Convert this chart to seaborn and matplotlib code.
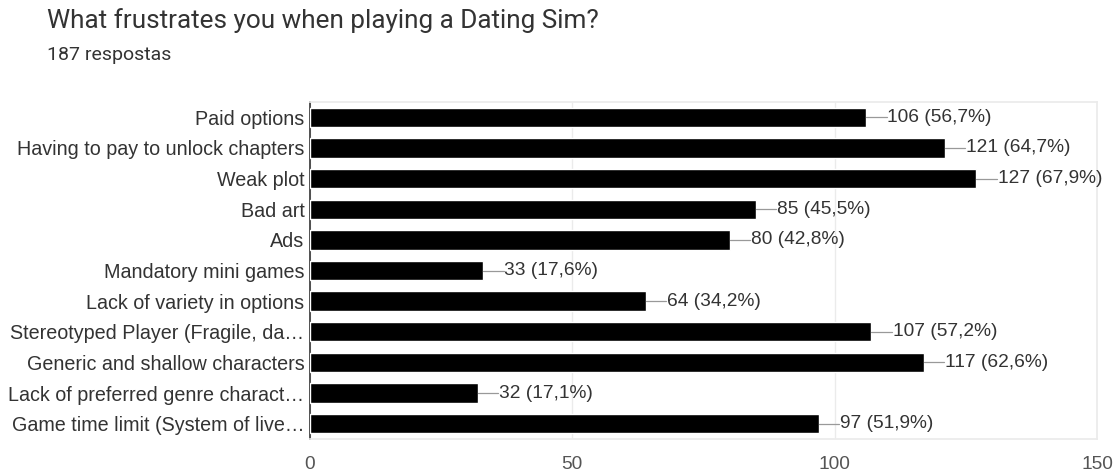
import matplotlib
matplotlib.use("Agg")
import matplotlib.pyplot as plt
import seaborn as sns
import pandas as pd

# Survey results
categories = [
    "Paid options",
    "Having to pay to unlock chapters",
    "Weak plot",
    "Bad art",
    "Ads",
    "Mandatory mini games",
    "Lack of variety in options",
    "Stereotyped Player (Fragile, da\u2026",
    "Generic and shallow characters",
    "Lack of preferred genre charact\u2026",
    "Game time limit (System of live\u2026",
]
counts = [106, 121, 127, 85, 80, 33, 64, 107, 117, 32, 97]
percents = ["56,7", "64,7", "67,9", "45,5", "42,8", "17,6", "34,2", "57,2", "62,6", "17,1", "51,9"]
x_ticks = [0, 50, 100, 150]

title = "What frustrates you when playing a Dating Sim?"
subtitle = "187 respostas"

sns.set_theme(style="white")
plt.rcParams["font.family"] = ["Liberation Sans", "DejaVu Sans"]

df = pd.DataFrame({"category": categories, "count": counts})

fig = plt.figure(figsize=(11.16, 4.73), dpi=100)
ax = fig.add_axes([310 / 1116, 1 - 439 / 473, (1097 - 310) / 1116, (439 - 102) / 473])

sns.barplot(data=df, x="count", y="category", color="black", width=0.63,
            saturation=1, ax=ax, zorder=3)

ax.set_xlim(0, 150)
ax.set_ylim(len(categories) - 0.5, -0.5)
ax.set_xticks(x_ticks)
ax.set_xticklabels([str(t) for t in x_ticks])
ax.set_xlabel("")
ax.set_ylabel("")
ax.xaxis.grid(True, color="#ebebeb", linewidth=1, zorder=0)
ax.set_axisbelow(True)

for side in ["top", "right", "bottom"]:
    ax.spines[side].set_visible(True)
    ax.spines[side].set_color("#ebebeb")
ax.spines["left"].set_color("#333333")
ax.spines["left"].set_linewidth(1.2)

ax.tick_params(axis="y", length=0, pad=4, labelsize=14.2, labelcolor="#333333")
ax.tick_params(axis="x", length=0, pad=12, labelsize=13.8, labelcolor="#555555")

# Value labels with short leader lines
lead = 3.9
for i, (v, p) in enumerate(zip(counts, percents)):
    ax.plot([v, v + lead], [i, i], color="#999999", linewidth=0.9, zorder=4)
    ax.text(v + lead + 0.15, i, f"{v} ({p}%)", va="center", ha="left",
            fontsize=13.8, color="#333333", zorder=5)

fig.text(47 / 1116, 1 - 21 / 473, title, fontsize=18.8, color="#333333",
         ha="left", va="center", family=["Roboto", "DejaVu Sans"])
fig.text(47 / 1116, 1 - 55 / 473, subtitle, fontsize=14, color="#333333",
         ha="left", va="center", family=["Roboto", "DejaVu Sans"])

fig.savefig("out.png", dpi=100)
